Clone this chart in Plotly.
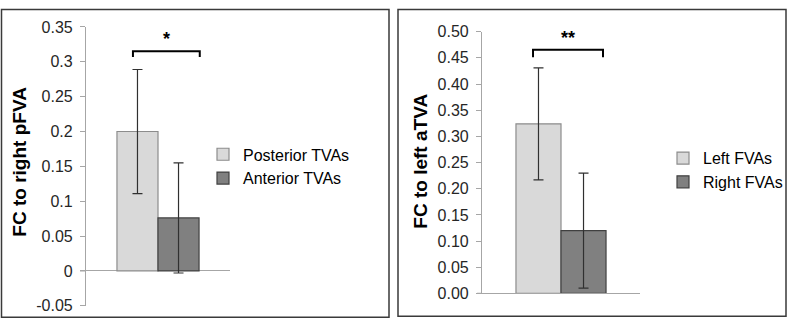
import plotly.graph_objects as go

# ---- data ----
left_series = ["Posterior TVAs", "Anterior TVAs"]
left_values = [0.200, 0.076]
left_errors = [0.089, 0.079]
left_ticks = [-0.05, 0, 0.05, 0.1, 0.15, 0.2, 0.25, 0.3, 0.35]
left_ticktext = ["-0.05", "0", "0.05", "0.1", "0.15", "0.2", "0.25", "0.3", "0.35"]
left_ytitle = "FC to right pFVA"
left_sig = "*"

right_series = ["Left FVAs", "Right FVAs"]
right_values = [0.324, 0.120]
right_errors = [0.107, 0.110]
right_ticks = [0.00, 0.05, 0.10, 0.15, 0.20, 0.25, 0.30, 0.35, 0.40, 0.45, 0.50]
right_ticktext = ["%.2f" % v for v in right_ticks]
right_ytitle = "FC to left aTVA"
right_sig = "**"

fill_colors = ["#d9d9d9", "#808080"]
edge_colors = ["#8c8c8c", "#404040"]

FONT = "Liberation Sans, Arial, sans-serif"
W, H = 789, 329


def px(x):  # page x pixel -> paper fraction
    return x / W


def py(y):  # page y pixel (from top) -> paper fraction
    return 1 - y / H


fig = go.Figure()
for i in range(2):
    fig.add_trace(go.Bar(
        x=["g"], y=[left_values[i]], name=left_series[i],
        marker=dict(color=fill_colors[i], line=dict(color=edge_colors[i], width=1.2)),
        error_y=dict(type="data", array=[left_errors[i]], color="#303030", thickness=1.2, width=5),
        xaxis="x", yaxis="y", legend="legend", legendgroup="L%d" % i,
    ))
for i in range(2):
    fig.add_trace(go.Bar(
        x=["g"], y=[right_values[i]], name=right_series[i],
        marker=dict(color=fill_colors[i], line=dict(color=edge_colors[i], width=1.2)),
        error_y=dict(type="data", array=[right_errors[i]], color="#303030", thickness=1.2, width=5),
        xaxis="x2", yaxis="y2", legend="legend2", legendgroup="R%d" % i,
    ))

axcol = "#a6a6a6"
common_x = dict(showticklabels=False, ticks="", showgrid=False, zeroline=False, range=[-0.5, 0.5])
common_y = dict(showgrid=False, ticks="outside", ticklen=5, tickcolor=axcol, showline=True,
                linecolor=axcol, linewidth=1.2, tickfont=dict(family=FONT, size=16, color="#262626"),
                ticklabelstandoff=4)

fig.update_layout(
    width=W, height=H, autosize=False,
    margin=dict(l=0, r=0, t=0, b=0),
    paper_bgcolor="white", plot_bgcolor="white",
    barmode="group", bargap=0.43, bargroupgap=0,
    font=dict(family=FONT, color="#000000"),
    xaxis=dict(domain=[px(86), px(230)], anchor="y", showline=False, **common_x),
    yaxis=dict(domain=[py(314), py(20)], anchor="x", range=[-0.05, 0.35],
               tickvals=left_ticks, ticktext=left_ticktext,
               zeroline=True, zerolinecolor=axcol, zerolinewidth=1.2,
               **common_y),
    xaxis2=dict(domain=[px(482), px(640)], anchor="y2", showline=True, linecolor=axcol, linewidth=1.2, **common_x),
    yaxis2=dict(domain=[py(301), py(25)], anchor="x2", range=[0, 0.5],
                tickvals=right_ticks, ticktext=right_ticktext, zeroline=False,
                **common_y),
    legend=dict(x=px(203), y=py(167), xanchor="left", yanchor="middle",
                font=dict(family=FONT, size=16, color="#000"), tracegroupgap=0,
                bgcolor="rgba(0,0,0,0)", itemwidth=30),
    legend2=dict(x=px(663), y=py(171), xanchor="left", yanchor="middle",
                 font=dict(family=FONT, size=16, color="#000"), tracegroupgap=0,
                 bgcolor="rgba(0,0,0,0)", itemwidth=30),
    showlegend=True,
)

# axis titles
fig.add_annotation(xref="paper", yref="paper", x=px(20), y=py(162), text="<b>%s</b>" % left_ytitle,
                   textangle=-90, showarrow=False, font=dict(family=FONT, size=19, color="#000"),
                   xanchor="center", yanchor="middle")
fig.add_annotation(xref="paper", yref="paper", x=px(421), y=py(162), text="<b>%s</b>" % right_ytitle,
                   textangle=-90, showarrow=False, font=dict(family=FONT, size=19, color="#000"),
                   xanchor="center", yanchor="middle")

# category-axis stubs that poke left of the value axis (Excel style)
fig.add_shape(type="line", xref="x domain", yref="y", x0=-6 / 144, x1=0, y0=0, y1=0,
              line=dict(color=axcol, width=1.2))
fig.add_shape(type="line", xref="x2 domain", yref="y2", x0=-5 / 158, x1=0, y0=0, y1=0,
              line=dict(color=axcol, width=1.2))

# panel frames
fig.add_shape(type="rect", xref="paper", yref="paper", x0=px(1.5), x1=px(389), y0=py(326), y1=py(1.5),
              line=dict(color="#3a3a3a", width=1.5), fillcolor="rgba(0,0,0,0)", layer="below")
fig.add_shape(type="rect", xref="paper", yref="paper", x0=px(398), x1=px(786), y0=py(325), y1=py(1.5),
              line=dict(color="#3a3a3a", width=1.5), fillcolor="rgba(0,0,0,0)", layer="below")


# significance brackets
def bracket(xref, yref, xa, xb, ytop, ybot, text, ytext):
    fig.add_shape(type="path", xref=xref, yref=yref,
                  path="M %f %f L %f %f L %f %f L %f %f" % (xa, ybot, xa, ytop, xb, ytop, xb, ybot),
                  line=dict(color="#000", width=2))
    fig.add_annotation(xref=xref, yref=yref, x=(xa + xb) / 2, y=ytext, text="<b>%s</b>" % text,
                       showarrow=False, font=dict(family=FONT, size=18, color="#000"), yanchor="middle")


bracket("x domain", "y", 0.326, 0.79, 0.315, 0.307, left_sig, 0.333)
bracket("x2 domain", "y2", 0.323, 0.766, 0.4656, 0.451, right_sig, 0.488)

fig.write_html("out.html", config={"displayModeBar": False},
               post_script="document.documentElement.style.margin='0';document.body.style.margin='0';"
                           "document.body.style.padding='0';")
